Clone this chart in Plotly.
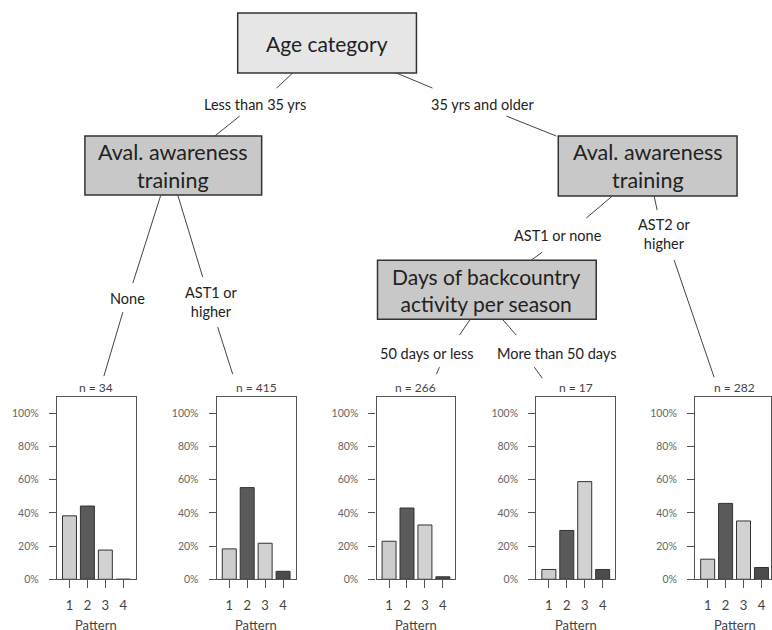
import plotly.graph_objects as go

W, H = 772, 630

# ---------------- data ----------------
patterns = [1, 2, 3, 4]
pattern_labels = ["1", "2", "3", "4"]
n_labels = ["n = 34", "n = 415", "n = 266", "n = 17", "n = 282"]
leaf1 = [0.382, 0.441, 0.176, 0.0]      # <35, no training
leaf2 = [0.183, 0.552, 0.217, 0.048]    # <35, AST1 or higher
leaf3 = [0.229, 0.429, 0.327, 0.015]    # 35+, AST1/none, <=50 days
leaf4 = [0.059, 0.294, 0.588, 0.059]    # 35+, AST1/none, >50 days
leaf5 = [0.121, 0.457, 0.351, 0.071]    # 35+, AST2 or higher
leaves = [leaf1, leaf2, leaf3, leaf4, leaf5]
ytick_vals = [0, 0.2, 0.4, 0.6, 0.8, 1.0]
ytick_text = ["0%", "20%", "40%", "60%", "80%", "100%"]
bar_colors = ["#cdcdcd", "#5a5a5a", "#d2d2d2", "#4c4c4c"]

VS = 0.99  # vertical correction


def px(x):
    return x / W


def py(y):
    return 1 - (y / VS) / H


fig = go.Figure()

panel_left = [57, 217, 377, 537, 696]
panel_w = 79
top_px, bot_px = 397, 579
ymax = (bot_px - top_px) / 166.0

for i, vals in enumerate(leaves):
    k = "" if i == 0 else str(i + 1)
    x0 = panel_left[i]
    x1 = min(x0 + panel_w, W)
    xr_hi = 0.3 + 4.4 * (x1 - x0) / panel_w
    fig.add_trace(go.Bar(
        x=patterns, y=vals, width=0.78,
        marker=dict(color=bar_colors, line=dict(color="#333333", width=1)),
        xaxis="x" + k, yaxis="y" + k, showlegend=False, hoverinfo="skip"))
    fig.layout["xaxis" + k] = dict(
        domain=[px(x0), px(x1)], range=[0.3, xr_hi], anchor="y" + k,
        tickvals=patterns, ticktext=pattern_labels, ticks="outside", ticklen=8,
        tickcolor="#555", showline=True, linecolor="#555", linewidth=1.2,
        mirror=True, showgrid=False, zeroline=False, ticklabelstandoff=6,
        tickfont=dict(family="Lato", size=13, color="#444"))
    fig.layout["yaxis" + k] = dict(
        domain=[py(bot_px), py(top_px)], range=[0, ymax], anchor="x" + k,
        tickvals=ytick_vals, ticktext=ytick_text, ticks="outside", ticklen=7,
        tickcolor="#555", showline=True, linecolor="#555", linewidth=1.2,
        mirror=True, showgrid=False, zeroline=False, ticklabelstandoff=8,
        tickfont=dict(family="Lato", size=10.5, color="#666"))
    cx = x0 + panel_w / 2
    fig.add_annotation(x=px(cx), y=py(387), xref="paper", yref="paper",
                       xanchor="center", yanchor="middle",
                       text=n_labels[i], showarrow=False,
                       font=dict(family="Lato", size=12, color="#444"))
    fig.add_annotation(x=px(cx), y=py(615), xref="paper", yref="paper",
                       xanchor="center", yanchor="top",
                       text="Pattern", showarrow=False,
                       font=dict(family="Lato", size=13, color="#444"))

shapes = []


def box(x0, y0, x1, y1, fill):
    shapes.append(dict(type="rect", xref="paper", yref="paper",
                       x0=px(x0), x1=px(x1), y0=py(y1), y1=py(y0),
                       fillcolor=fill, line=dict(color="#333", width=1.5)))


def seg(x0, y0, x1, y1):
    shapes.append(dict(type="line", xref="paper", yref="paper",
                       x0=px(x0), y0=py(y0), x1=px(x1), y1=py(y1),
                       line=dict(color="#444", width=1)))


def txt(x, y, s, size):
    fig.add_annotation(x=px(x), y=py(y), xref="paper", yref="paper", text=s,
                       showarrow=False, align="center",
                       xanchor="center", yanchor="middle",
                       font=dict(family="Lato", size=size, color="#222"))


# nodes
box(238, 13, 417, 73, "#e6e6e6")
txt(327.5, 43, "Age category", 21)
box(85, 136, 262, 195, "#c8c8c8")
txt(173.5, 165.5, "Aval. awareness<br>training", 21.5)
box(559, 136, 738, 196, "#c8c8c8")
txt(648.5, 166, "Aval. awareness<br>training", 21.5)
box(378, 260, 597, 319, "#c8c8c8")
txt(487.5, 289.5, "Days of backcountry<br>activity per season", 21)

# edges
EL = 14.5
seg(293, 73, 277, 88)
txt(255, 104, "Less than 35 yrs", EL)
seg(240, 116, 215, 136)
seg(397, 73, 433, 88)
txt(483, 104, "35 yrs and older", EL)
seg(507, 116, 557, 136)

seg(161, 195, 133, 283)
txt(128, 298, "None", EL)
seg(123, 312, 104, 376)
seg(178, 195, 203, 277)
txt(212, 302, "AST1 or<br>higher", EL)
seg(218, 327, 233, 374)

seg(613, 196, 587, 218)
txt(559, 235, "AST1 or none", EL)
seg(543, 252, 532, 260)
seg(655, 196, 658, 210)
txt(665, 234, "AST2 or<br>higher", EL)
seg(675, 260, 715, 377)

seg(471, 319, 460, 335)
txt(428, 353, "50 days or less", EL)
seg(440, 367, 437, 374)
seg(503, 319, 517, 335)
txt(557, 353, "More than 50 days", EL)
seg(535, 367, 543, 378)

fig.update_layout(width=W, height=H, margin=dict(l=0, r=0, t=0, b=0),
                  paper_bgcolor="white", plot_bgcolor="white",
                  shapes=shapes, bargap=0.2)

post = ("document.body.style.margin='0px';"
        "document.documentElement.style.overflow='hidden';"
        "document.body.style.overflow='hidden';"
        "var d=document.getElementById('{plot_id}');"
        "d.style.display='block';"
        "if(d.parentElement){d.parentElement.style.height='630px';"
        "d.parentElement.style.overflow='hidden';}")

fig.write_html("out.html", config={"displayModeBar": False}, post_script=post)
